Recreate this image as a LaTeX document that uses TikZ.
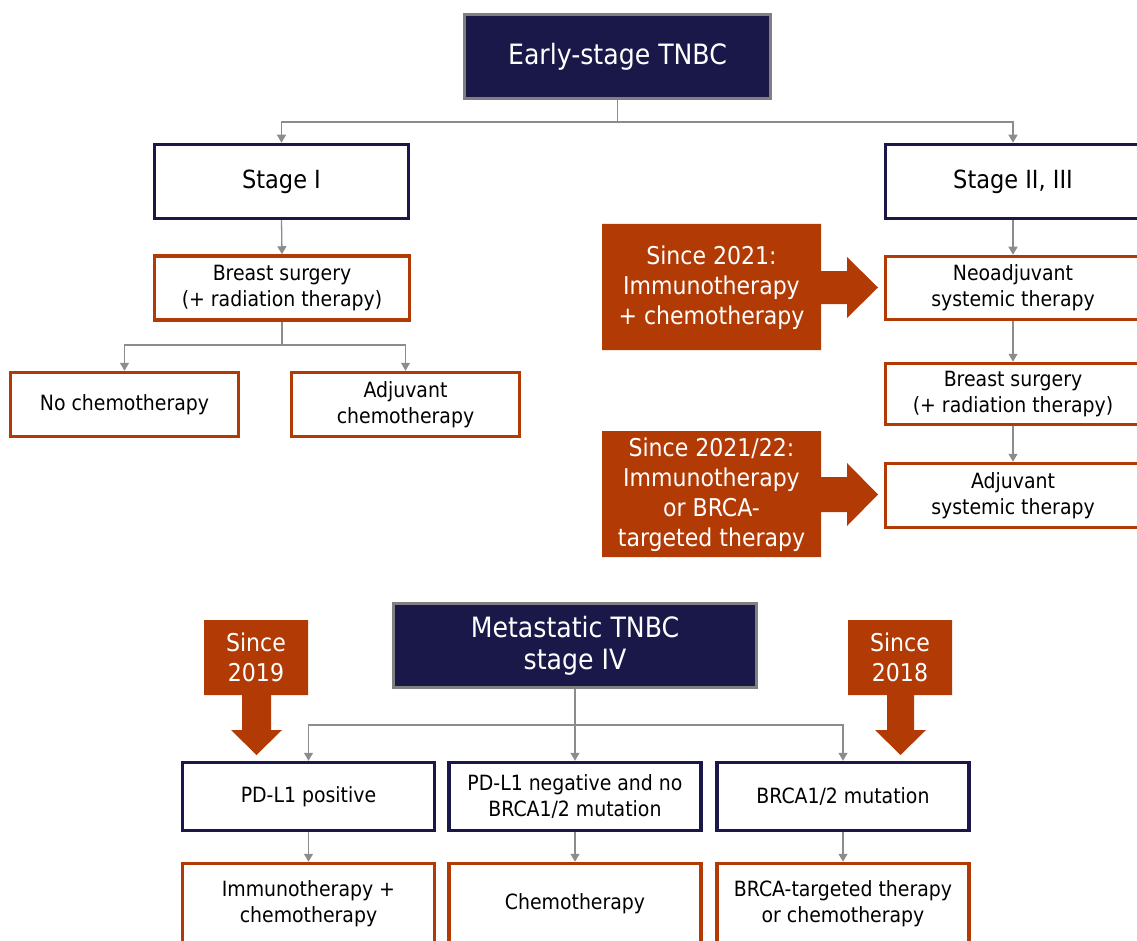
\documentclass[tikz,border=0pt]{standalone}
\usepackage{fontspec}
\setmainfont{DejaVu Sans Condensed}
\usetikzlibrary{arrows.meta}

\definecolor{navy}{HTML}{1A1849}
\definecolor{rust}{HTML}{B23A05}
\definecolor{linkgray}{HTML}{8C8C8C}
\definecolor{framegray}{HTML}{808080}

\tikzset{
  headbox/.style={draw=framegray, line width=3.5pt, fill=navy, text=white,
    align=center, inner sep=0pt, font=\fontsize{28}{32}\selectfont},
  stagebox/.style={draw=navy, line width=3.5pt, fill=white, text=black,
    align=center, inner sep=0pt, font=\fontsize{25}{30}\selectfont},
  casebox/.style={draw=navy, line width=3.5pt, fill=white, text=black,
    align=center, inner sep=0pt, font=\fontsize{21}{26}\selectfont},
  stepbox/.style={draw=rust, line width=3.5pt, fill=white, text=black,
    align=center, inner sep=0pt, font=\fontsize{21}{26}\selectfont},
  sincetext/.style={text=white, align=center, inner sep=0pt,
    font=\fontsize{24.5}{30}\selectfont},
  link/.style={draw=linkgray, line width=1.3pt,
    -{Triangle[width=9pt,length=8pt]}},
  callout/.style={fill=rust},
}

\begin{document}
\begin{tikzpicture}[x=1pt,y=-1pt]
\useasboundingbox (0,0) rectangle (1137,941);

% ---- early-stage branch ----
\node[headbox, minimum width=306pt, minimum height=84pt] (early) at (617.5,56.5) {Early-stage TNBC};

\node[stagebox, minimum width=254pt, minimum height=74pt] (s1) at (281.5,181.5) {Stage I};
\node[stagebox, minimum width=255pt, minimum height=74pt] (s23) at (1013,181.5) {Stage II, III};

\node[stepbox, minimum width=255pt, minimum height=64pt] (surgL) at (282,288) {Breast surgery\\(+ radiation therapy)};
\node[stepbox, minimum width=228pt, minimum height=64pt] (nochemo) at (124.5,404.5) {No chemotherapy};
\node[stepbox, minimum width=228pt, minimum height=64pt] (adjchemo) at (405.5,404.5) {Adjuvant\\chemotherapy};

\node[stepbox, minimum width=255pt, minimum height=63pt] (neo) at (1013,288) {Neoadjuvant\\systemic therapy};
\node[stepbox, minimum width=255pt, minimum height=61pt] (surgR) at (1013,394) {Breast surgery\\(+ radiation therapy)};
\node[stepbox, minimum width=255pt, minimum height=64pt] (adjsys) at (1013,495.5) {Adjuvant\\systemic therapy};

\coordinate (j1) at (617.5,122);
\coordinate (j2) at (282,345);
\draw[link] (early.south) -- (j1) -| (s1.north);
\draw[link] (early.south) -- (j1) -| (s23.north);
\draw[link] (s1.south) -- (surgL.north);
\draw[link] (surgL.south) -- (j2) -| (nochemo.north);
\draw[link] (surgL.south) -- (j2) -| (adjchemo.north);
\draw[link] (s23.south) -- (neo.north);
\draw[link] (neo.south) -- (surgR.north);
\draw[link] (surgR.south) -- (adjsys.north);

% right-pointing callouts
\fill[callout] (602,224) -- (821,224) -- (821,271) -- (847,271) -- (847,257)
  -- (878,287.5) -- (847,318) -- (847,304) -- (821,304) -- (821,350)
  -- (602,350) -- cycle;
\node[sincetext] (since21) at (711.5,288) {Since 2021:\\Immunotherapy\\+ chemotherapy};

\fill[callout] (602,431) -- (821,431) -- (821,477) -- (847,477) -- (847,463)
  -- (878,494.5) -- (847,526) -- (847,512) -- (821,512) -- (821,557)
  -- (602,557) -- cycle;
\node[sincetext] (since2122) at (711.5,495) {Since 2021/22:\\Immunotherapy\\or BRCA-\\targeted therapy};

% ---- metastatic branch ----
\node[headbox, minimum width=363pt, minimum height=84pt] (meta) at (575,645.5) {Metastatic TNBC\\stage IV};

\node[casebox, minimum width=252pt, minimum height=68pt] (pdpos) at (308.5,796.5) {PD-L1 positive};
\node[casebox, minimum width=252pt, minimum height=68pt] (pdneg) at (575,796.5) {PD-L1 negative and no\\BRCA1/2 mutation};
\node[casebox, minimum width=252pt, minimum height=68pt] (brca) at (843,796.5) {BRCA1/2 mutation};

\node[stepbox, minimum width=252pt, minimum height=80pt] (immchemo) at (308.5,903.5) {Immunotherapy +\\chemotherapy};
\node[stepbox, minimum width=252pt, minimum height=80pt] (chemo) at (575,903.5) {Chemotherapy};
\node[stepbox, minimum width=252pt, minimum height=80pt] (brcachemo) at (843,903.5) {BRCA-targeted therapy\\or chemotherapy};

\coordinate (j3) at (575,725);
\draw[link] (meta.south) -- (j3) -| (pdpos.north);
\draw[link] (meta.south) -- (pdneg.north);
\draw[link] (meta.south) -- (j3) -| (brca.north);
\draw[link] (pdpos.south) -- (immchemo.north);
\draw[link] (pdneg.south) -- (chemo.north);
\draw[link] (brca.south) -- (brcachemo.north);

% downward callouts
\fill[callout] (204,620) -- (308,620) -- (308,695) -- (271,695) -- (271,730)
  -- (282,730) -- (256.5,755) -- (231,730) -- (242,730) -- (242,695)
  -- (204,695) -- cycle;
\node[sincetext] (since19) at (256,657.5) {Since\\2019};

\fill[callout] (848,620) -- (952,620) -- (952,695) -- (914,695) -- (914,730)
  -- (926,730) -- (900.5,755) -- (875,730) -- (887,730) -- (887,695)
  -- (848,695) -- cycle;
\node[sincetext] (since18) at (900,657.5) {Since\\2018};

\end{tikzpicture}
\end{document}
